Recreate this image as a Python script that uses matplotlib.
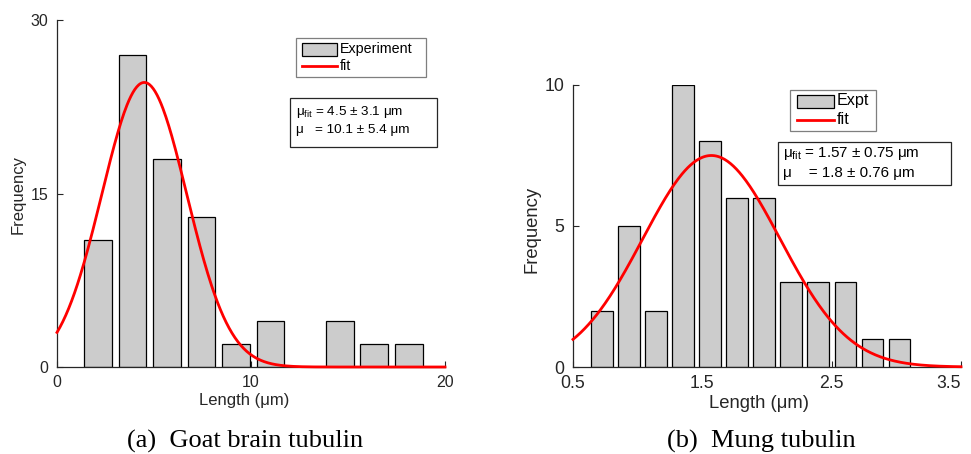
import numpy as np
import matplotlib
matplotlib.use("Agg")
import matplotlib.pyplot as plt
from matplotlib import transforms
from matplotlib.patches import Rectangle
from matplotlib.lines import Line2D

# ---- data -------------------------------------------------------------
goat_centers = [2.11, 3.89, 5.67, 7.45, 9.23, 11.01, 12.79, 14.57, 16.35, 18.13]
goat_counts = [11, 27, 18, 13, 2, 4, 0, 4, 2, 2]
goat_fit_amp, goat_fit_mean, goat_fit_width = 24.6, 4.5, 3.1
goat_xticks = [0, 10, 20]
goat_yticks = [0, 15, 30]
goat_stats = ["μ$_{\\mathrm{fit}}$ = 4.5 ± 3.1 μm", "μ   = 10.1 ± 5.4 μm"]

mung_centers = [0.725, 0.934, 1.143, 1.352, 1.561, 1.770, 1.979, 2.188,
                2.397, 2.606, 2.815, 3.024]
mung_counts = [2, 5, 2, 10, 8, 6, 6, 3, 3, 3, 1, 1]
mung_fit_amp, mung_fit_mean, mung_fit_width = 7.5, 1.57, 0.75
mung_xticks = [0.5, 1.5, 2.5, 3.5]
mung_xticklabels = ["0.5", "1.5", "2.5", "3.5"]
mung_yticks = [0, 5, 10]
mung_stats = ["μ$_{\\mathrm{fit}}$ = 1.57 ± 0.75 μm", "μ    = 1.8 ± 0.76 μm"]

# ---- style ------------------------------------------------------------
W, H = 971, 454
plt.rcParams["font.family"] = ["Liberation Sans", "DejaVu Sans"]
plt.rcParams["mathtext.fontset"] = "custom"
plt.rcParams["mathtext.rm"] = "Liberation Sans"
plt.rcParams["mathtext.it"] = "Liberation Sans:italic"
AX_COL = "#262626"
BAR_FACE = "#cccccc"
RED = "#ff0000"

fig = plt.figure(figsize=(W / 100, H / 100), dpi=100)
# pixel coordinates measured from the top-left corner
PX = transforms.Affine2D().scale(1 / W, -1 / H).translate(0, 1) + fig.transFigure


def axes_at(left, top, right, bottom):
    return fig.add_axes([left / W, 1 - bottom / H, (right - left) / W, (bottom - top) / H])


def gauss(x, a, b, c):
    return a * np.exp(-((x - b) / c) ** 2)


def style_axes(ax, tick_size):
    for s in ("top", "right"):
        ax.spines[s].set_visible(False)
    for s in ("left", "bottom"):
        ax.spines[s].set_color(AX_COL)
        ax.spines[s].set_linewidth(0.9)
    ax.tick_params(direction="in", length=4, width=0.8, colors=AX_COL,
                   labelsize=tick_size, labelcolor=AX_COL)
    ax.tick_params(axis="y", pad=6)
    ax.tick_params(axis="x", pad=6)


def legend_box(x0, y0, x1, y1, patch, line_y, labels, text_x, text_ys, size):
    fig.add_artist(Rectangle((x0, y0), x1 - x0, y1 - y0, transform=PX,
                             facecolor="white", edgecolor="#7f7f7f", lw=0.9))
    px0, py0, px1, py1 = patch
    fig.add_artist(Rectangle((px0, py0), px1 - px0, py1 - py0, transform=PX,
                             facecolor=BAR_FACE, edgecolor="black", lw=0.9))
    fig.add_artist(Line2D([px0, px1], [line_y, line_y], transform=PX,
                          color=RED, lw=2))
    for lab, ty in zip(labels, text_ys):
        fig.text(text_x, ty, lab, transform=PX, ha="left", va="center",
                 fontsize=size, color="black")


def stats_box(x0, y0, x1, y1, lines, text_x, text_ys, size):
    fig.add_artist(Rectangle((x0, y0), x1 - x0, y1 - y0, transform=PX,
                             facecolor="white", edgecolor=AX_COL, lw=0.9))
    for s, ty in zip(lines, text_ys):
        fig.text(text_x, ty, s, transform=PX, ha="left", va="center",
                 fontsize=size, color="black")


# ---- (a) goat brain tubulin --------------------------------------------
ax1 = axes_at(57, 20, 445, 367)
ax1.bar(goat_centers, goat_counts, width=1.43, color=BAR_FACE,
        edgecolor="black", linewidth=0.9, zorder=2)
xg = np.linspace(0, 20, 400)
ax1.plot(xg, gauss(xg, goat_fit_amp, goat_fit_mean, goat_fit_width),
         color=RED, lw=2, zorder=3, clip_on=False)
ax1.set_xlim(0, 20)
ax1.set_ylim(0, 30)
ax1.set_xticks(goat_xticks)
ax1.set_yticks(goat_yticks)
style_axes(ax1, 11.5)
fig.text(18.5, 195, "Frequency", transform=PX, rotation=90, ha="center",
         va="center", fontsize=12, color=AX_COL)
fig.text(244, 400, "Length (μm)", transform=PX, ha="center", va="center",
         fontsize=12, color=AX_COL)

legend_box(296, 38, 426, 77, (302, 42.5, 337, 55.5), 66,
           ["Experiment", "fit"], 340, [49, 66], 10.3)
stats_box(290, 98, 437, 147, goat_stats, 296, [111.5, 129.5], 9.7)

# ---- (b) mung tubulin ----------------------------------------------------
ax2 = axes_at(573, 85, 961, 367)
ax2.bar(mung_centers, mung_counts, width=0.168, color=BAR_FACE,
        edgecolor="black", linewidth=0.9, zorder=2)
xm = np.linspace(0.5, 3.5, 400)
ax2.plot(xm, gauss(xm, mung_fit_amp, mung_fit_mean, mung_fit_width),
         color=RED, lw=2, zorder=3, clip_on=False)
ax2.set_xlim(0.5, 3.5)
ax2.set_ylim(0, 10)
ax2.set_xticks(mung_xticks)
ax2.set_xticklabels(mung_xticklabels)
ax2.set_yticks(mung_yticks)
style_axes(ax2, 12.7)
# keep the last tick label inside the canvas
ax2.get_xticklabels()[-1].set_horizontalalignment("right")
ax2.get_xticklabels()[-1].set_x(3.5)
fig.text(532, 229, "Frequency", transform=PX, rotation=90, ha="center",
         va="center", fontsize=13.3, color=AX_COL)
fig.text(759, 403, "Length (μm)", transform=PX, ha="center", va="center",
         fontsize=13.3, color=AX_COL)

legend_box(790, 89.5, 876, 131, (797, 94.5, 834, 107.5), 119.5,
           ["Expt", "fit"], 837, [100, 119], 11.6)
stats_box(777.5, 141.5, 950.5, 184.5, mung_stats, 783, [153.5, 173.5], 10.9)

# ---- captions ---------------------------------------------------------------
for cx, cap in ((245, "(a)  Goat brain tubulin"), (761, "(b)  Mung tubulin")):
    fig.text(cx, 448, cap, transform=PX, ha="center", va="baseline",
             fontsize=19, family="Liberation Serif", color="black")

fig.savefig("out.png", dpi=100)
